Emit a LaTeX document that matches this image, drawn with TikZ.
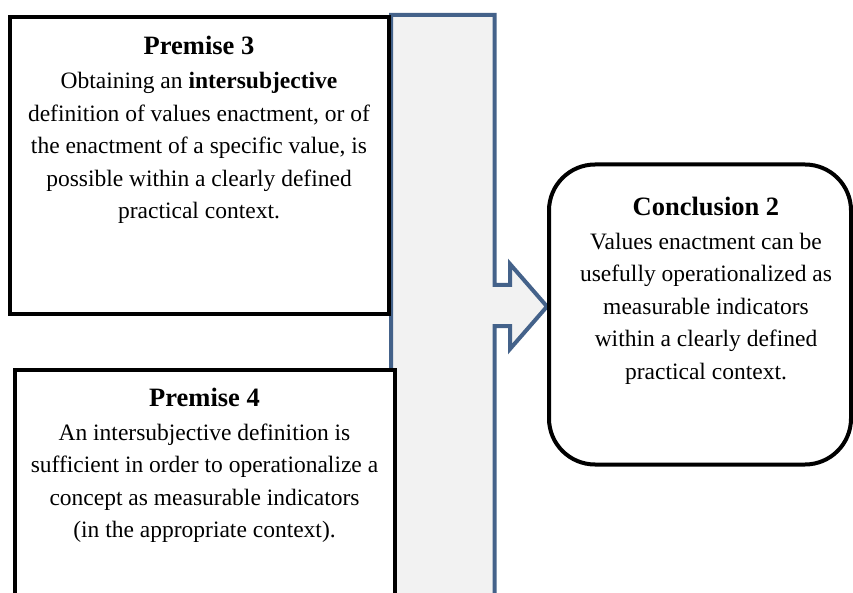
\documentclass[tikz,border=0pt]{standalone}
\usepackage{fontspec}
\setmainfont{Liberation Serif}
\usetikzlibrary{positioning}
\definecolor{arrowblue}{RGB}{68,98,138}
\definecolor{arrowgray}{RGB}{242,242,242}

\tikzset{
  premisebox/.style={draw=black,line width=4pt,fill=white,outer sep=0pt,
    inner sep=0pt,anchor=north west},
  conclbox/.style={premisebox,rounded corners=46pt},
  boxtext/.style={align=center,inner sep=0pt,
    font=\fontsize{23.5}{32.4}\selectfont},
}
\newcommand{\boxtitle}[1]{{\fontsize{26.5}{32.4}\selectfont\bfseries #1}\\[2pt]}

\begin{document}
\begin{tikzpicture}[x=1pt,y=-1pt,line join=miter]
  \useasboundingbox (0,0) rectangle (853,593);
  \clip (0,0) rectangle (853,593);
  % block arrow behind the boxes
  \coordinate (AT) at (391,15);
  \coordinate (AR) at (494.5,15);
  \coordinate (HU) at (510,264);
  \coordinate (HP) at (547,306.5);
  \coordinate (HL) at (510,349);
  \draw[arrowblue,fill=arrowgray,line width=4pt]
    (AT) -- (AR) -- (494.5,285) -- (510,285) -- (HU) -- (HP) -- (HL)
    -- (510,326) -- (494.5,326) -- (494.5,640) -- (391,640) -- cycle;
  \node[premisebox,minimum width=379pt,minimum height=296.5pt]
    (p3box) at (9.5,17.5) {};
  \node[premisebox,minimum width=380pt,minimum height=260pt]
    (p4box) at (14.5,370) {};
  \node[conclbox,minimum width=302pt,minimum height=300pt]
    (c2box) at (549,164.5) {};
  \node[boxtext,below=18.5pt of p3box.north] (p3text) {\boxtitle{Premise 3}
    Obtaining an \textbf{intersubjective}\\
    definition of values enactment, or of\\
    the enactment of a specific value, is\\
    possible within a clearly defined\\
    practical context.};
  \node[boxtext,below=17.5pt of p4box.north] (p4text) {\boxtitle{Premise 4}
    An intersubjective definition is\\
    sufficient in order to operationalize a\\
    concept as measurable indicators\\
    (in the appropriate context).};
  \node[boxtext,below=32pt of c2box.north,xshift=6pt] (c2text) {\boxtitle{Conclusion 2}
    Values enactment can be\\
    usefully operationalized as\\
    measurable indicators\\
    within a clearly defined\\
    practical context.};
\end{tikzpicture}
\end{document}
